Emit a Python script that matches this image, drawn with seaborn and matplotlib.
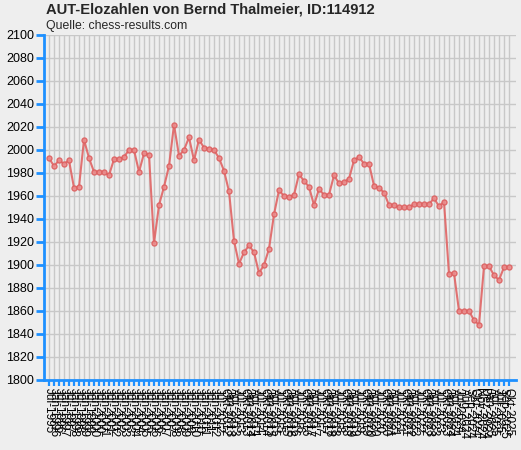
import numpy as np
import pandas as pd
import matplotlib
matplotlib.use("Agg")
import matplotlib.pyplot as plt
import seaborn as sns

labels = [
    "Jul-1995", "Jan-1996", "Jul-1996", "Jan-1997", "Jul-1997", "Jan-1998", "Jul-1998",
    "Jan-1999", "Jul-1999", "Jan-2000", "Jul-2000", "Jan-2001", "Jul-2001", "Jan-2002",
    "Jul-2002", "Jan-2003", "Jul-2003", "Jan-2004", "Jul-2004", "Jan-2005", "Jul-2005",
    "Jan-2006", "Jul-2006", "Jan-2007", "Jul-2007", "Jan-2008", "Jul-2008", "Jan-2009",
    "Jul-2009", "Jan-2010", "Jul-2010", "Jan-2011", "Jul-2011", "Jan-2012", "Jul-2012",
    "Okt-2012",
    "Jan-2013", "Apr-2013", "Jul-2013", "Okt-2013",
    "Jan-2014", "Apr-2014", "Jul-2014", "Okt-2014",
    "Jan-2015", "Apr-2015", "Jul-2015", "Okt-2015",
    "Jan-2016", "Apr-2016", "Jul-2016", "Okt-2016",
    "Jan-2017", "Apr-2017", "Jul-2017", "Okt-2017",
    "Jan-2018", "Apr-2018", "Jul-2018", "Okt-2018",
    "Jan-2019", "Apr-2019", "Jul-2019", "Okt-2019",
    "Jan-2020", "Apr-2020", "Jul-2020", "Okt-2020",
    "Jan-2021", "Apr-2021", "Jul-2021", "Okt-2021",
    "Jan-2022", "Apr-2022", "Jul-2022", "Okt-2022",
    "Jan-2023", "Apr-2023", "Jul-2023", "Okt-2023",
    "Jan-2024", "Apr-2024", "Jul-2024", "Aug-2024", "Sep-2024", "Okt-2024",
    "Nov-2024", "Dez-2024", "Jan-2025", "Apr-2025", "Jul-2025", "Sep-2025", "Okt-2025",
]

elo = [
    1993, 1986, 1991, 1988, 1991, 1967, 1968, 2009, 1993, 1981,
    1981, 1981, 1978, 1992, 1992, 1994, 2000, 2000, 1981, 1997,
    1996, 1919, 1952, 1968, 1986, 2022, 1995, 2000, 2011, 1991,
    2009, 2002, 2001, 2000, 1993, 1982, 1964, 1921, 1901, 1911,
    1917, 1911, 1893, 1900, 1914, 1944, 1965, 1960, 1959, 1961,
    1979, 1973, 1968, 1952, 1966, 1961, 1961, 1978, 1971, 1972,
    1975, 1991, 1994, 1988, 1988, 1969, 1967, 1963, 1952, 1952,
    1950, 1950, 1950, 1953, 1953, 1953, 1953, 1958, 1951, 1955,
    1892, 1893, 1860, 1860, 1860, 1852, 1848, 1899, 1899, 1891,
    1887, 1898, 1898,
]

title = "AUT-Elozahlen von Bernd Thalmeier, ID:114912"
subtitle = "Quelle: chess-results.com"
yticks = list(range(1800, 2101, 20))

df = pd.DataFrame({"pos": range(len(labels)), "label": labels, "elo": elo})

sns.set_theme(style="whitegrid")
plt.rcParams["font.family"] = ["Liberation Sans", "DejaVu Sans"]

bg = "#eeeeee"
blue = "#1e90ff"
fig = plt.figure(figsize=(5.21, 4.5), dpi=100, facecolor=bg)
ax = fig.add_axes([44 / 521, 70 / 450, 472 / 521, 345 / 450])
ax.set_facecolor(bg)

sns.lineplot(data=df, x="pos", y="elo", ax=ax, color="#e06464", linewidth=1.5,
             marker="o", markersize=3.6, markerfacecolor="#ea8c8c",
             markeredgecolor="#dd6060", markeredgewidth=1.0, alpha=0.9)

ax.set_xlim(-1, 93.4)
ax.set_ylim(1800, 2100)
ax.set_yticks(yticks)
ax.set_yticklabels([str(v) for v in yticks], fontsize=9)
ax.set_xticks(df["pos"])
ax.set_xticklabels(df["label"], rotation=270, fontsize=8.5, va="top", ha="center")
ax.set_xlabel("")
ax.set_ylabel("")

ax.grid(True, color="#c8c8c8", linewidth=1)
for s in ["top", "right"]:
    ax.spines[s].set_visible(False)
for s in ["left", "bottom"]:
    ax.spines[s].set_visible(True)
    ax.spines[s].set_color(blue)
    ax.spines[s].set_linewidth(2)
ax.tick_params(axis="y", length=6, width=2, color=blue, pad=1, labelcolor="black", left=True)
ax.tick_params(axis="x", length=4, width=1.6, color=blue, pad=2, labelcolor="black", bottom=True)

fig.text(46 / 521, 1 - 3 / 450, title, fontsize=10.6, fontweight="bold", va="top", ha="left")
fig.text(46 / 521, 1 - 20 / 450, subtitle, fontsize=8.8, va="top", ha="left")

fig.savefig("out.png", dpi=100, facecolor=bg)
